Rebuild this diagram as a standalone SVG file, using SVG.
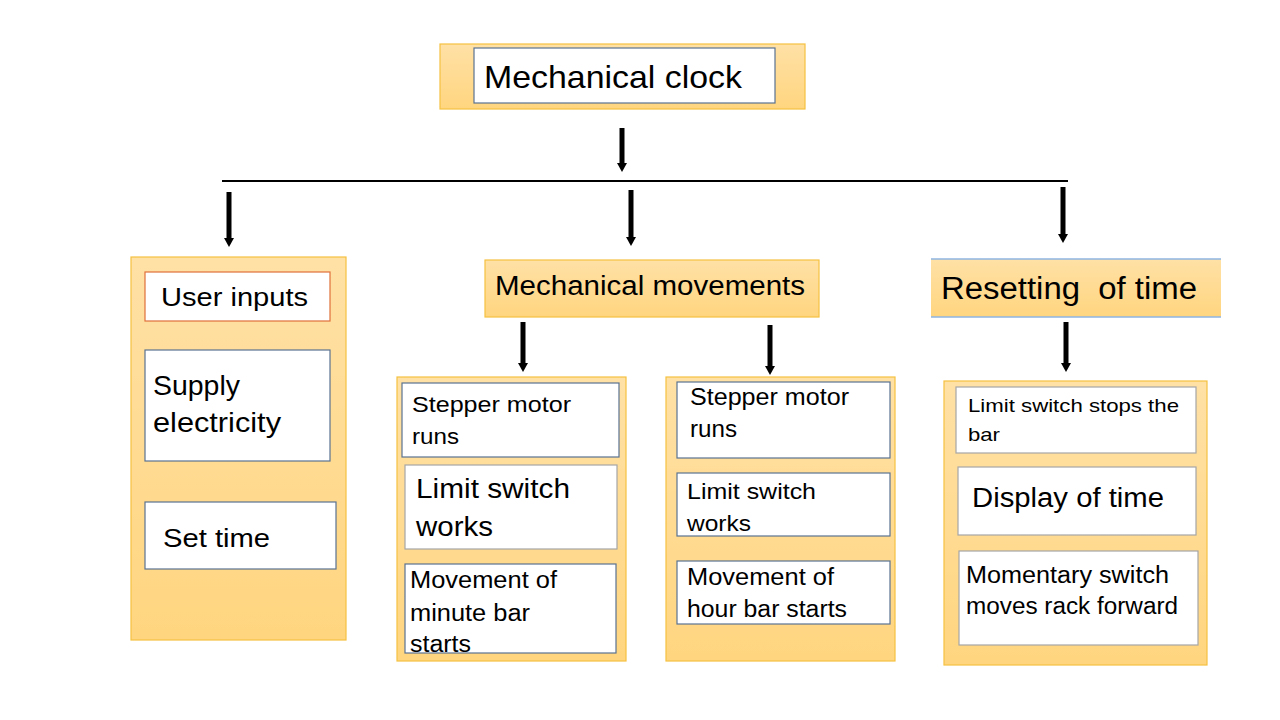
<svg xmlns="http://www.w3.org/2000/svg" width="1280" height="720" viewBox="0 0 1280 720">
<style>
.t{font-family:"Liberation Sans",Arial,sans-serif;fill:#000}
.ob{fill:url(#og);stroke:#F5C242;stroke-width:1.2}
.wb{fill:#fff;stroke:#5B7291;stroke-width:1.2}
.gb{fill:#fff;stroke:#A6A6A6;stroke-width:1.2}
.ar{stroke:#000;stroke-width:5;fill:none;marker-end:url(#ah)}
</style>
<defs>
<linearGradient id="og" x1="0" y1="0" x2="0" y2="1">
<stop offset="0" stop-color="#FFE1A6"/>
<stop offset="1" stop-color="#FFD57F"/>
</linearGradient>
<marker id="ah" markerUnits="userSpaceOnUse" markerWidth="14" markerHeight="10" refX="0" refY="5" orient="auto">
<path d="M0,0 L9,5 L0,10 Z" fill="#000"/>
</marker>
</defs>
<rect width="1280" height="720" fill="#fff"/>

<g id="connectors">
<line x1="222" y1="181" x2="1068" y2="181" stroke="#000" stroke-width="2"/>
<line class="ar" x1="622" y1="128" x2="622" y2="163"/>
<line class="ar" x1="229" y1="192" x2="229" y2="238"/>
<line class="ar" x1="631" y1="190" x2="631" y2="237"/>
<line class="ar" x1="1063" y1="187" x2="1063" y2="234"/>
<line class="ar" x1="523" y1="322" x2="523" y2="363"/>
<line class="ar" x1="770" y1="325" x2="770" y2="366"/>
<line class="ar" x1="1066" y1="322" x2="1066" y2="363"/>
</g>

<g id="mechanical-clock">
<rect class="ob" x="440" y="44" width="365" height="65"/>
<rect class="wb" x="474" y="48" width="301" height="55"/>
<text class="t" x="484" y="88" font-size="32" textLength="258" lengthAdjust="spacingAndGlyphs">Mechanical clock</text>
</g>

<g id="user-inputs">
<rect class="ob" x="131" y="257" width="215" height="383"/>
<rect x="145" y="272" width="185" height="49" fill="#fff" stroke="#E0703A" stroke-width="1.2"/>
<text class="t" x="161" y="306" font-size="26" textLength="147" lengthAdjust="spacingAndGlyphs">User inputs</text>
<rect class="wb" x="145" y="350" width="185" height="111"/>
<text class="t" x="153" y="395" font-size="28" textLength="87" lengthAdjust="spacingAndGlyphs">Supply</text>
<text class="t" x="153" y="432" font-size="28" textLength="128" lengthAdjust="spacingAndGlyphs">electricity</text>
<rect class="wb" x="145" y="502" width="191" height="67"/>
<text class="t" x="163" y="547" font-size="26" textLength="107" lengthAdjust="spacingAndGlyphs">Set time</text>
</g>

<g id="mechanical-movements">
<rect class="ob" x="485" y="260" width="334" height="57"/>
<text class="t" x="495" y="295" font-size="27" textLength="310" lengthAdjust="spacingAndGlyphs">Mechanical movements</text>
</g>

<g id="resetting-of-time">
<rect x="931" y="259" width="290" height="58" fill="url(#og)"/>
<line x1="931" y1="259" x2="1221" y2="259" stroke="#8EB4E3" stroke-width="1.5"/>
<line x1="931" y1="317" x2="1221" y2="317" stroke="#8EB4E3" stroke-width="1.5"/>
<text class="t" x="941" y="299" font-size="31" textLength="256" lengthAdjust="spacingAndGlyphs" xml:space="preserve">Resetting  of time</text>
</g>

<g id="minute-bar">
<rect class="ob" x="397" y="377" width="229" height="284"/>
<rect class="wb" x="402" y="383" width="217" height="74"/>
<text class="t" x="412" y="412" font-size="22" textLength="159" lengthAdjust="spacingAndGlyphs">Stepper motor</text>
<text class="t" x="412" y="444" font-size="22" textLength="47" lengthAdjust="spacingAndGlyphs">runs</text>
<rect class="gb" x="405" y="465" width="212" height="84"/>
<text class="t" x="416" y="498" font-size="27" textLength="154" lengthAdjust="spacingAndGlyphs">Limit switch</text>
<text class="t" x="416" y="536" font-size="27" textLength="77" lengthAdjust="spacingAndGlyphs">works</text>
<rect class="wb" x="405" y="564" width="211" height="89"/>
<text class="t" x="410" y="588" font-size="23" textLength="147" lengthAdjust="spacingAndGlyphs">Movement of</text>
<text class="t" x="410" y="621" font-size="23" textLength="120" lengthAdjust="spacingAndGlyphs">minute bar</text>
<text class="t" x="410" y="652" font-size="23" textLength="61" lengthAdjust="spacingAndGlyphs">starts</text>
</g>

<g id="hour-bar">
<rect class="ob" x="666" y="377" width="229" height="284"/>
<rect class="wb" x="677" y="382" width="213" height="76"/>
<text class="t" x="690" y="405" font-size="23" textLength="159" lengthAdjust="spacingAndGlyphs">Stepper motor</text>
<text class="t" x="690" y="437" font-size="23" textLength="47" lengthAdjust="spacingAndGlyphs">runs</text>
<rect class="wb" x="677" y="473" width="213" height="63"/>
<text class="t" x="687" y="499" font-size="22" textLength="129" lengthAdjust="spacingAndGlyphs">Limit switch</text>
<text class="t" x="687" y="531" font-size="22" textLength="64" lengthAdjust="spacingAndGlyphs">works</text>
<rect class="wb" x="677" y="561" width="213" height="63"/>
<text class="t" x="687" y="585" font-size="23" textLength="147" lengthAdjust="spacingAndGlyphs">Movement of</text>
<text class="t" x="687" y="617" font-size="23" textLength="160" lengthAdjust="spacingAndGlyphs">hour bar starts</text>
</g>

<g id="reset-steps">
<rect class="ob" x="944" y="381" width="263" height="284"/>
<rect class="gb" x="956" y="387" width="240" height="66"/>
<text class="t" x="968" y="412" font-size="19" textLength="211" lengthAdjust="spacingAndGlyphs">Limit switch stops the</text>
<text class="t" x="968" y="441" font-size="19" textLength="32" lengthAdjust="spacingAndGlyphs">bar</text>
<rect class="gb" x="958" y="467" width="238" height="68"/>
<text class="t" x="972" y="507" font-size="27" textLength="192" lengthAdjust="spacingAndGlyphs">Display of time</text>
<rect class="gb" x="959" y="551" width="239" height="94"/>
<text class="t" x="966" y="583" font-size="23" textLength="203" lengthAdjust="spacingAndGlyphs">Momentary switch</text>
<text class="t" x="966" y="614" font-size="23" textLength="212" lengthAdjust="spacingAndGlyphs">moves rack forward</text>
</g>
</svg>
